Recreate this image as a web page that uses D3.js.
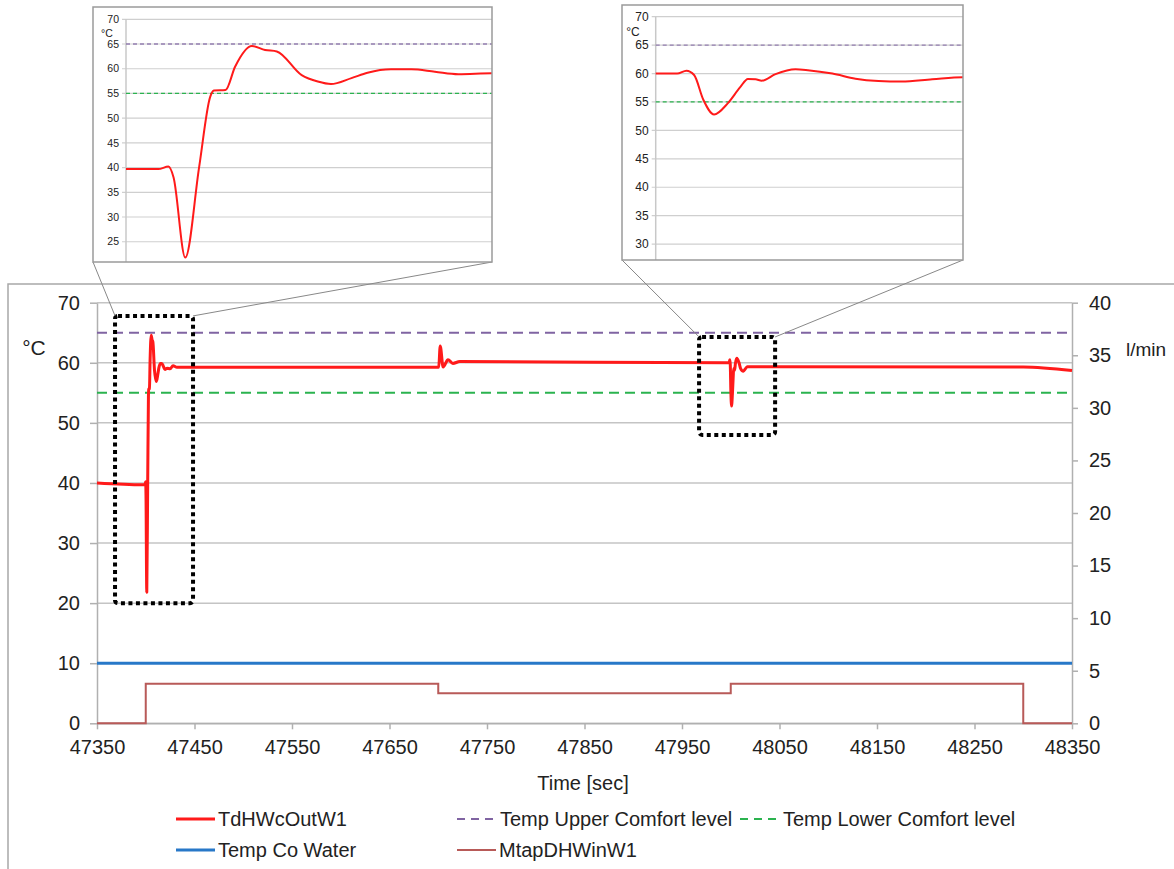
<!DOCTYPE html>
<html>
<head>
<meta charset="utf-8">
<script src="https://cdn.jsdelivr.net/npm/d3@7"></script>
<style>
  body { margin: 0; background: #fff; }
  text { font-family: "Liberation Sans", Arial, sans-serif; fill: #222; }
</style>
</head>
<body>
<div id="content"></div>
<script>
// ---- data ----
const timeSec = [47350, 47397, 47399.2, 47399.9, 47400.25, 47401.05, 47402.0, 47402.75, 47403.0, 47403.8,
  47404.45, 47405.6, 47406.5, 47407.3, 47409.0, 47410.1, 47411.0, 47412.4, 47413.5, 47415.1, 47416.5,
  47418.1, 47419.7, 47422.0, 47425, 47428, 47432, 47699, 47700.5, 47702, 47705, 47710, 47715, 47722,
  47997, 47998.4, 47999.0, 47999.5, 48000.1, 48000.8, 48001.7, 48002.5, 48003.0, 48003.5, 48003.9,
  48004.8, 48006.1, 48006.9, 48008.5, 48010.0, 48011.5, 48013.0, 48015.0, 48017.0, 48300, 48350];
const tdHWcOut = [40.0, 39.7, 39.7, 40.2, 38.0, 21.8, 40.2, 54.3, 55.6, 55.7,
  60.4, 64.6, 63.8, 63.5, 58.7, 57.4, 56.9, 58.1, 59.2, 59.9, 59.9,
  59.4, 58.9, 59.1, 59.0, 59.5, 59.25, 59.25, 59.3, 62.8, 59.3, 60.5, 59.9, 60.2,
  60.0, 60.0, 60.5, 59.75, 55.4, 52.8, 54.8, 57.6, 59.05, 59.0, 58.75,
  59.9, 60.75, 60.6, 60.0, 59.1, 58.7, 58.6, 59.0, 59.35, 59.3, 58.7];

const flowTime = [47350, 47400, 47400, 47700, 47700, 48000, 48000, 48300, 48300, 48350];
const flowVal  = [0, 0, 3.75, 3.75, 2.85, 2.85, 3.75, 3.75, 0, 0];

const tempCold = 10;
const tempUpper = 65;
const tempLower = 55;

const xTicks = d3.range(47350, 48351, 100);
const yTicksL = d3.range(0, 71, 10);
const yTicksR = d3.range(0, 41, 5);
const insetTicks1 = d3.range(20, 71, 5);
const insetTicks2 = d3.range(30, 71, 5);

// zoom windows: [t0, t1] and temperature range of the dotted box
const box1 = { t: [47368.5, 47448.5], v: [20, 67.8] };
const box2 = { t: [47967.5, 48045.5], v: [48, 64.3] };
const inset1Time = [47397, 47422];
const inset2Time = [47997, 48017];

const legendNames = ["TdHWcOutW1", "Temp Upper Comfort level", "Temp Lower Comfort level", "Temp Co Water", "MtapDHWinW1"];

// ---- colours ----
const cRed = "#ff1a1a", cPurple = "#8064a2", cGreen = "#2bb34f", cBlue = "#2878c8", cBrown = "#b85a58";

const W = 1174, H = 869;
const svg = d3.select("#content").append("svg").attr("width", W).attr("height", H);

const series = timeSec.map((t, i) => ({ t: t, v: tdHWcOut[i] }));
const flow = flowTime.map((t, i) => ({ t: t, v: flowVal[i] }));

// ---- main chart ----
const pL = 97, pR = 1072, pT = 302.7, pB = 723.3;
const x = d3.scaleLinear().domain([47350, 48350]).range([pL, pR]);
const yL = d3.scaleLinear().domain([0, 70]).range([pB, pT]);
const yR = d3.scaleLinear().domain([0, 40]).range([pB, pT]);

// outer frame
svg.append("path").attr("d", `M8,${H} L8,284 L${W},284`)
  .attr("fill", "none").attr("stroke", "#a8a8a8").attr("stroke-width", 1.5);

// grid
svg.append("g").selectAll("line").data(yTicksL).join("line")
  .attr("x1", pL).attr("x2", pR).attr("y1", d => yL(d)).attr("y2", d => yL(d))
  .attr("stroke", "#c4c4c4").attr("stroke-width", 1.5);

function styleAxis(g) {
  g.select(".domain").attr("stroke", "#b0b0b0").attr("stroke-width", 1.5);
  g.selectAll(".tick line").attr("stroke", "#b0b0b0").attr("stroke-width", 1.5);
  g.selectAll(".tick text").style("font-size", "20px").attr("fill", "#222");
}

svg.append("g").attr("transform", `translate(${pL},0)`)
  .call(d3.axisLeft(yL).tickValues(yTicksL).tickSize(7).tickPadding(10).tickSizeOuter(0))
  .call(styleAxis);
svg.append("g").attr("transform", `translate(${pR},0)`)
  .call(d3.axisRight(yR).tickValues(yTicksR).tickSize(6).tickPadding(11).tickSizeOuter(0))
  .call(styleAxis);
svg.append("g").attr("transform", `translate(0,${pB})`)
  .call(d3.axisBottom(x).tickValues(xTicks).tickFormat(d3.format("d")).tickSize(6).tickPadding(11).tickSizeOuter(0))
  .call(styleAxis);

svg.append("text").attr("x", 34).attr("y", 355).attr("text-anchor", "middle")
  .style("font-size", "21px").text("°C");
svg.append("text").attr("x", 1146).attr("y", 356).attr("text-anchor", "middle")
  .style("font-size", "19px").text("l/min");
svg.append("text").attr("x", 583).attr("y", 790).attr("text-anchor", "middle")
  .style("font-size", "20px").text("Time [sec]");

// comfort levels
svg.append("line").attr("x1", pL).attr("x2", pR).attr("y1", yL(tempUpper)).attr("y2", yL(tempUpper))
  .attr("stroke", cPurple).attr("stroke-width", 2).attr("stroke-dasharray", "10,6");
svg.append("line").attr("x1", pL).attr("x2", pR).attr("y1", yL(tempLower)).attr("y2", yL(tempLower))
  .attr("stroke", cGreen).attr("stroke-width", 2).attr("stroke-dasharray", "10,6");
// cold water
svg.append("line").attr("x1", pL).attr("x2", pR).attr("y1", yL(tempCold)).attr("y2", yL(tempCold))
  .attr("stroke", cBlue).attr("stroke-width", 3);

// flow
svg.append("path").datum(flow)
  .attr("d", d3.line().x(d => x(d.t)).y(d => yR(d.v)))
  .attr("fill", "none").attr("stroke", cBrown).attr("stroke-width", 2);

// outlet temperature
svg.append("path").datum(series)
  .attr("d", d3.line().x(d => x(d.t)).y(d => yL(d.v)).curve(d3.curveMonotoneX))
  .attr("fill", "none").attr("stroke", cRed).attr("stroke-width", 3).attr("stroke-linejoin", "round");

// dotted zoom boxes
[box1, box2].forEach(b => {
  svg.append("rect")
    .attr("x", x(b.t[0])).attr("y", yL(b.v[1]))
    .attr("width", x(b.t[1]) - x(b.t[0])).attr("height", yL(b.v[0]) - yL(b.v[1]))
    .attr("rx", 3)
    .attr("fill", "none").attr("stroke", "#000").attr("stroke-width", 4).attr("stroke-dasharray", "4,3.5");
});

// ---- insets ----
function inset(cfg) {
  const f = cfg.frame;
  // connector lines
  svg.append("line").attr("x1", f.x0).attr("y1", f.y1).attr("x2", x(cfg.box.t[0])).attr("y2", yL(cfg.box.v[1]))
    .attr("stroke", "#888").attr("stroke-width", 1);
  svg.append("line").attr("x1", f.x1).attr("y1", f.y1).attr("x2", x(cfg.box.t[1])).attr("y2", yL(cfg.box.v[1]))
    .attr("stroke", "#888").attr("stroke-width", 1);

  const g = svg.append("g");
  const clipId = "clip" + cfg.id;
  g.append("clipPath").attr("id", clipId).append("rect")
    .attr("x", f.x0).attr("y", f.y0).attr("width", f.x1 - f.x0).attr("height", f.y1 - f.y0);
  g.append("rect").attr("x", f.x0).attr("y", f.y0).attr("width", f.x1 - f.x0).attr("height", f.y1 - f.y0)
    .attr("fill", "#fff");

  const ix = d3.scaleLinear().domain(cfg.time).range([cfg.plotLeft, f.x1]);
  const iy = d3.scaleLinear().domain([cfg.yMin, 70]).range([f.y1, cfg.yTop]);
  const inner = g.append("g").attr("clip-path", `url(#${clipId})`);

  inner.append("g").selectAll("line").data(cfg.ticks).join("line")
    .attr("x1", cfg.plotLeft - 4).attr("x2", f.x1).attr("y1", d => iy(d)).attr("y2", d => iy(d))
    .attr("stroke", "#cfcfcf").attr("stroke-width", 1.2);
  inner.append("line").attr("x1", cfg.plotLeft).attr("x2", cfg.plotLeft).attr("y1", cfg.yTop).attr("y2", f.y1)
    .attr("stroke", "#c8c8c8").attr("stroke-width", 1.5);
  inner.append("g").selectAll("text").data(cfg.ticks).join("text")
    .attr("x", cfg.plotLeft - 7).attr("y", d => iy(d)).attr("dy", "0.35em")
    .attr("text-anchor", "end").style("font-size", cfg.font + "px").attr("fill", "#333")
    .text(d => d);
  inner.append("text").attr("x", cfg.unit[0]).attr("y", cfg.unit[1]).attr("dy", "0.35em")
    .attr("text-anchor", "middle").style("font-size", cfg.font + "px").attr("fill", "#333").text("°C");

  inner.append("line").attr("x1", cfg.plotLeft).attr("x2", f.x1).attr("y1", iy(tempUpper)).attr("y2", iy(tempUpper))
    .attr("stroke", cPurple).attr("stroke-opacity", 0.8).attr("stroke-width", 1.3).attr("stroke-dasharray", "4,3");
  inner.append("line").attr("x1", cfg.plotLeft).attr("x2", f.x1).attr("y1", iy(tempLower)).attr("y2", iy(tempLower))
    .attr("stroke", cGreen).attr("stroke-width", 1.3).attr("stroke-dasharray", "4,3");

  const plotClip = "pclip" + cfg.id;
  g.append("clipPath").attr("id", plotClip).append("rect")
    .attr("x", cfg.plotLeft).attr("y", f.y0).attr("width", f.x1 - cfg.plotLeft).attr("height", f.y1 - f.y0);
  g.append("path").datum(series).attr("clip-path", `url(#${plotClip})`)
    .attr("d", d3.line().x(d => ix(d.t)).y(d => iy(d.v)).curve(d3.curveMonotoneX))
    .attr("fill", "none").attr("stroke", cRed).attr("stroke-width", 2);

  g.append("rect").attr("x", f.x0).attr("y", f.y0).attr("width", f.x1 - f.x0).attr("height", f.y1 - f.y0)
    .attr("fill", "none").attr("stroke", "#9a9a9a").attr("stroke-width", 1.5);
}

inset({ id: 1, frame: { x0: 93, x1: 492, y0: 7, y1: 262 }, plotLeft: 126, yTop: 19.3, yMin: 20.9,
  time: inset1Time, ticks: insetTicks1, font: 10.5, unit: [107, 33], box: box1 });
inset({ id: 2, frame: { x0: 622, x1: 963, y0: 5, y1: 260 }, plotLeft: 655.7, yTop: 16.7, yMin: 27.2,
  time: inset2Time, ticks: insetTicks2, font: 12, unit: [633, 32], box: box2 });

// ---- legend ----
const legendItems = [
  { name: legendNames[0], x: 176, y: 819, color: cRed, w: 3, dash: null },
  { name: legendNames[1], x: 457, y: 819, color: cPurple, w: 2, dash: "8,6" },
  { name: legendNames[2], x: 740, y: 819, color: cGreen, w: 2, dash: "8,6" },
  { name: legendNames[3], x: 176, y: 850, color: cBlue, w: 3, dash: null },
  { name: legendNames[4], x: 457, y: 850, color: cBrown, w: 2, dash: null }
];
const lg = svg.append("g").selectAll("g").data(legendItems).join("g")
  .attr("transform", d => `translate(${d.x},${d.y})`);
lg.append("line").attr("x1", 0).attr("x2", d => d.dash ? 40 : 39).attr("y1", 0).attr("y2", 0)
  .attr("stroke", d => d.color).attr("stroke-width", d => d.w).attr("stroke-dasharray", d => d.dash);
lg.append("text").attr("x", d => d.dash ? 43 : 42).attr("y", 0).attr("dy", "0.35em")
  .style("font-size", "20px").text(d => d.name);
</script>
</body>
</html>
